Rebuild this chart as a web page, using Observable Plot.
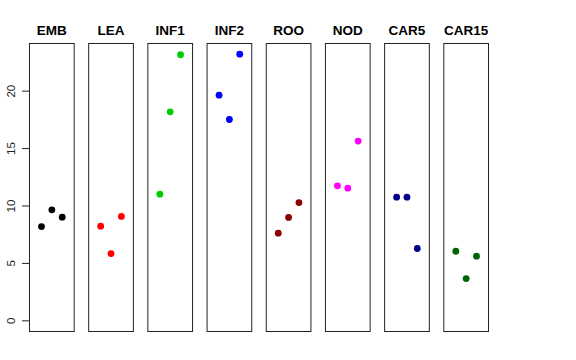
<!DOCTYPE html>
<html>
<head>
<meta charset="utf-8">
<script src="https://cdn.jsdelivr.net/npm/d3@7"></script>
<script src="https://cdn.jsdelivr.net/npm/@observablehq/plot@0.6"></script>
<style>
  html, body { margin: 0; padding: 0; background: #fff; }
  svg { font-family: "Liberation Sans", Arial, sans-serif; }
</style>
</head>
<body>
<div id="chart"></div>
<script>
const categories = ["EMB", "LEA", "INF1", "INF2", "ROO", "NOD", "CAR5", "CAR15"];
const colors = ["#000000", "#FF0000", "#00CD00", "#0000FF", "#8B0000", "#FF00FF", "#00008B", "#006400"];
const rep1 = [8.21, 8.24, 11.03, 19.65, 7.63, 11.76, 10.77, 6.06];
const rep2 = [9.67, 5.86, 18.20, 17.53, 9.00, 11.55, 10.77, 3.68];
const rep3 = [9.03, 9.09, 23.17, 23.22, 10.30, 15.65, 6.30, 5.63];
const yTicks = [0, 5, 10, 15, 20];

const data = [];
categories.forEach((c, i) => {
  [rep1[i], rep2[i], rep3[i]].forEach((v, j) => data.push({cat: c, rep: j + 1, value: v}));
});

const yMax = d3.max(data, d => d.value);
const yPad = yMax * 0.04;

const chart = Plot.plot({
  width: 576,
  height: 360,
  marginTop: 43,
  marginBottom: 29,
  marginLeft: 29,
  marginRight: 88,
  style: {fontFamily: "'Liberation Sans', Arial, sans-serif", background: "#fff"},
  fx: {domain: categories, paddingInner: 0.245, paddingOuter: 0, round: false},
  x: {domain: [-0.16, 4.16], axis: null},
  y: {domain: [-yPad, yMax + yPad]},
  color: {domain: categories, range: colors},
  marks: [
    Plot.frame({stroke: "#222", strokeWidth: 1}),
    Plot.axisFx({anchor: "top", tickSize: 0, tickPadding: 9, label: null, fontWeight: "bold", fontSize: 13.5, fill: "#000"}),
    Plot.axisY({ticks: yTicks, tickSize: 7, tickPadding: 8, tickRotate: -90, label: null, fontSize: 11.5, stroke: "#222", fill: "#222"}),
    Plot.dot(data, {fx: "cat", x: "rep", y: "value", fill: d => d.cat, r: 3.4, stroke: null})
  ]
});
document.getElementById("chart").appendChild(chart);
</script>
</body>
</html>
